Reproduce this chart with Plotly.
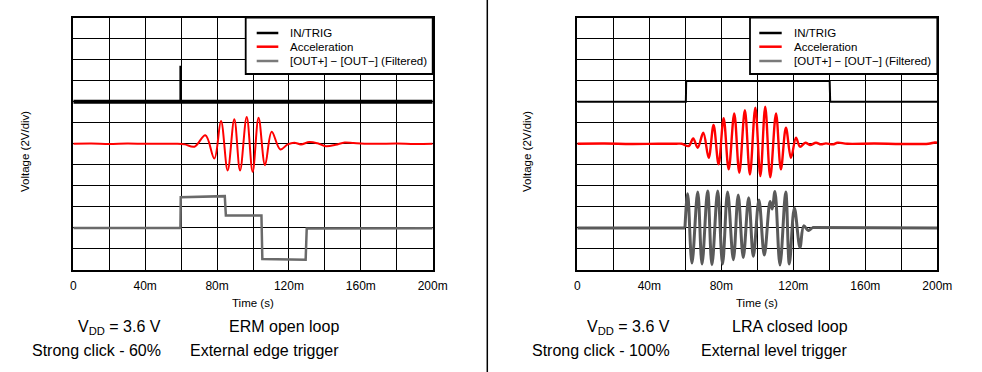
import plotly.graph_objects as go

W, H = 982, 372

# ---------------- data (time in ms, voltage in divisions of 2 V) ----------------
x_tick_vals = [0, 40, 80, 120, 160, 200]
x_tick_text = ["0", "40m", "80m", "120m", "160m", "200m"]
series_names = ["IN/TRIG", "Acceleration", "[OUT+] \u2212 [OUT\u2212] (Filtered)"]

# Left panel: ERM open loop
trig_left_t = [0, 200]
trig_left_v = [8.0, 8.0]
trig_spike_t = [59.6, 59.6]
trig_spike_v = [8.0, 9.71]

acc_left_t = [0, 10, 20, 30, 40, 50, 58, 62, 67.4, 73.5, 78.5, 82.2, 85.9, 89.6, 92.8,
              96.5, 99.8, 103.1, 106.7, 110.4, 115.2, 119.3, 123.0, 126.7, 131.3, 135.9,
              140.6, 146, 151, 156, 162, 170, 180, 190, 200]
acc_left_v = [6.0, 6.01, 5.99, 6.01, 6.0, 6.0, 6.0, 5.97, 5.86, 6.40, 5.30, 7.08, 4.73, 7.16, 4.73,
              7.27, 4.67, 7.24, 4.98, 6.57, 5.73, 5.97, 6.05, 5.97, 6.08, 6.02,
              5.88, 5.95, 6.06, 6.03, 6.0, 6.0, 6.01, 5.99, 6.0]

out_left_t = [0, 59.6, 59.8, 84.3, 84.9, 104.7, 105.2, 129.3, 129.9, 200]
out_left_v = [2.0, 2.0, 3.46, 3.51, 2.59, 2.59, 0.52, 0.49, 1.97, 1.99]

# Right panel: LRA closed loop
trig_right_t = [0, 60.3, 60.5, 140.2, 140.5, 200]
trig_right_v = [8.0, 8.0, 8.98, 8.98, 8.0, 8.0]

acc_right_t = [0, 15, 30, 45, 55, 58, 61.9, 64.4, 66.9, 70.0, 73.0, 75.7, 78.5, 81.3, 84.1, 87.2,
               90.0, 93.1, 95.9, 98.9, 101.7, 104.4, 107.2, 110.4, 113.1, 115.9, 118.7,
               121.5, 123.7, 126.7, 129.3, 132.6, 135.4, 138.1, 141.9, 144.6, 150, 165,
               180, 195, 198.6, 200]
acc_right_v = [6.0, 6.01, 5.99, 6.0, 6.0, 6.0, 5.89, 6.25, 5.81, 6.52, 5.33, 6.89, 5.02, 7.21, 4.78, 7.44,
               4.62, 7.59, 4.54, 7.71, 4.46, 7.76, 4.41, 7.44, 4.78, 6.76, 5.33,
               6.29, 5.86, 6.05, 5.94, 6.05, 5.97, 6.02, 5.97, 6.05, 6.0, 6.01,
               5.99, 6.0, 6.06, 6.05]

# filtered output: quiet baseline before/after, oscillating burst in between
out_right_base1_t = [0, 30, 59.8]
out_right_base1_v = [2.0, 2.0, 2.0]
out_right_t = [59.8, 61.3, 63.7, 66.9, 69.3, 72.4, 74.8, 78.0, 80.7, 83.5, 86.7, 89.4,
               92.2, 95.2, 97.8, 100.9, 103.9, 107.1, 108.3, 109.8, 112.6, 115.8, 117.8,
               120.6, 123.7, 125.8, 128.3, 130.5]
out_right_v = [2.0, 3.62, 0.33, 3.71, 0.29, 3.75, 0.25, 3.75, 0.29, 3.71, 0.49, 3.56,
               0.60, 3.43, 0.65, 3.33, 0.71, 3.25, 2.9, 3.73, 0.24, 3.71, 0.29,
               2.95, 1.08, 2.1, 1.88, 2.02]
out_right_base2_t = [130.5, 160, 200]
out_right_base2_v = [2.02, 2.0, 2.0]

# ---------------- helpers ----------------
def fx(px):
    return px / W

def fy(py):
    return 1 - py / H

FONT = "Liberation Sans, Arial, sans-serif"
RED = "#ff0000"
GRAY_L = "#6a6a6a"
GRAY_R = "#5a5a5a"

fig = go.Figure()

def add(t, v, xa, ya, color, width, shape="linear"):
    fig.add_trace(go.Scatter(x=t, y=v, mode="lines", xaxis=xa, yaxis=ya, showlegend=False,
                             line=dict(color=color, width=width, shape=shape, smoothing=1.0),
                             hoverinfo="skip"))

# left
add(out_left_t, out_left_v, "x", "y", GRAY_L, 2.5)
add(acc_left_t, acc_left_v, "x", "y", RED, 2, "spline")
add(trig_left_t, trig_left_v, "x", "y", "#000000", 4)
add(trig_spike_t, trig_spike_v, "x", "y", "#000000", 2)
# right
add(out_right_base1_t, out_right_base1_v, "x2", "y2", GRAY_R, 3)
add(out_right_t, out_right_v, "x2", "y2", GRAY_R, 3, "spline")
add(out_right_base2_t, out_right_base2_v, "x2", "y2", GRAY_R, 3)
add(acc_right_t, acc_right_v, "x2", "y2", RED, 2.4, "spline")
add(trig_right_t, trig_right_v, "x2", "y2", "#000000", 2)

plot_top, plot_bot = 17.5, 270.0
left_l, left_r = 73.3, 432.7
right_l, right_r = 577.3, 937.3

xaxis_common = dict(range=[0, 200], tickmode="array", tickvals=x_tick_vals, ticktext=x_tick_text,
                    showgrid=True, gridcolor="#000000", gridwidth=1.2, zeroline=False,
                    minor=dict(dtick=20, tick0=0, showgrid=True, gridcolor="#000000", gridwidth=1.2),
                    showline=True, linecolor="#000000", linewidth=2, mirror=True,
                    ticks="", ticklabelstandoff=4, automargin=False,
                    tickfont=dict(family=FONT, size=12, color="#000000"), fixedrange=True)
yaxis_common = dict(range=[0, 12], tickmode="linear", tick0=0, dtick=1, showticklabels=False,
                    showgrid=True, gridcolor="#000000", gridwidth=1.2, zeroline=False,
                    showline=True, linecolor="#000000", linewidth=2, mirror=True, ticks="",
                    automargin=False,
                    fixedrange=True, domain=[fy(plot_bot), fy(plot_top)])

fig.update_layout(
    template="none",
    width=W, height=H, margin=dict(l=0, r=0, t=0, b=0, pad=0, autoexpand=False),
    paper_bgcolor="white", plot_bgcolor="white",
    font=dict(family=FONT, color="#000000"),
    xaxis=dict(xaxis_common, domain=[fx(left_l), fx(left_r)], anchor="y"),
    yaxis=dict(yaxis_common, anchor="x"),
    xaxis2=dict(xaxis_common, domain=[fx(right_l), fx(right_r)], anchor="y2"),
    yaxis2=dict(yaxis_common, anchor="x2"),
)

shapes = []
annotations = []

# divider
shapes.append(dict(type="line", xref="paper", yref="paper", x0=fx(487.3), x1=fx(487.3),
                   y0=0, y1=1, line=dict(color="#000000", width=1.5)))

legend_colors = ["#000000", RED, "#7a7a7a"]
for (box_l, box_r, samp_l, samp_r, txt_l) in [(245.7, left_r, 256.7, 278.3, 288.0),
                                              (750.0, right_r, 759.3, 781.7, 792.3)]:
    shapes.append(dict(type="rect", xref="paper", yref="paper", x0=fx(box_l), x1=fx(box_r),
                       y0=fy(74.0), y1=fy(plot_top), fillcolor="white",
                       line=dict(color="#000000", width=1.8), layer="above"))
    for i, name in enumerate(series_names):
        yy = [33.0, 46.7, 61.0][i]
        shapes.append(dict(type="line", xref="paper", yref="paper", x0=fx(samp_l), x1=fx(samp_r),
                           y0=fy(yy), y1=fy(yy), line=dict(color=legend_colors[i], width=2.5),
                           layer="above"))
        annotations.append(dict(text=name, xref="paper", yref="paper", x=fx(txt_l), y=fy(yy),
                                xanchor="left", yanchor="middle", showarrow=False,
                                font=dict(family=FONT, size=11.5, color="#000000")))

captions = [
    # (center of x axis, ytitle x, vdd right, mode right, mode, trigger, click)
    (253.0, 25.0, 163.3, 340.7, "ERM open loop", "External edge trigger", "Strong click - 60%"),
    (757.3, 527.0, 671.7, 850.0, "LRA closed loop", "External level trigger", "Strong click - 100%"),
]
for cx, yx, vr, mr, mode, trig, click in captions:
    annotations.append(dict(text="Time (s)", xref="paper", yref="paper", x=fx(cx), y=fy(303.0),
                            xanchor="center", yanchor="middle", showarrow=False,
                            font=dict(family=FONT, size=11.5)))
    annotations.append(dict(text="Voltage (2V/div)", xref="paper", yref="paper", x=fx(yx), y=fy(152.0),
                            xanchor="center", yanchor="middle", showarrow=False, textangle=-90,
                            font=dict(family=FONT, size=11.5)))
    annotations.append(dict(text="V<sub>DD</sub> = 3.6 V", xref="paper", yref="paper", x=fx(vr),
                            y=fy(327.5), xanchor="right", yanchor="middle", showarrow=False,
                            font=dict(family=FONT, size=16)))
    annotations.append(dict(text=click, xref="paper", yref="paper", x=fx(vr), y=fy(350.0),
                            xanchor="right", yanchor="middle", showarrow=False,
                            font=dict(family=FONT, size=16)))
    annotations.append(dict(text=mode, xref="paper", yref="paper", x=fx(mr), y=fy(326.7),
                            xanchor="right", yanchor="middle", showarrow=False,
                            font=dict(family=FONT, size=16)))
    annotations.append(dict(text=trig, xref="paper", yref="paper", x=fx(mr), y=fy(350.0),
                            xanchor="right", yanchor="middle", showarrow=False,
                            font=dict(family=FONT, size=16)))

fig.update_layout(shapes=shapes, annotations=annotations)
fig.write_html("out.html", config={"displayModeBar": False},
               post_script="document.body.style.margin='0px';document.body.style.overflow='hidden';")
